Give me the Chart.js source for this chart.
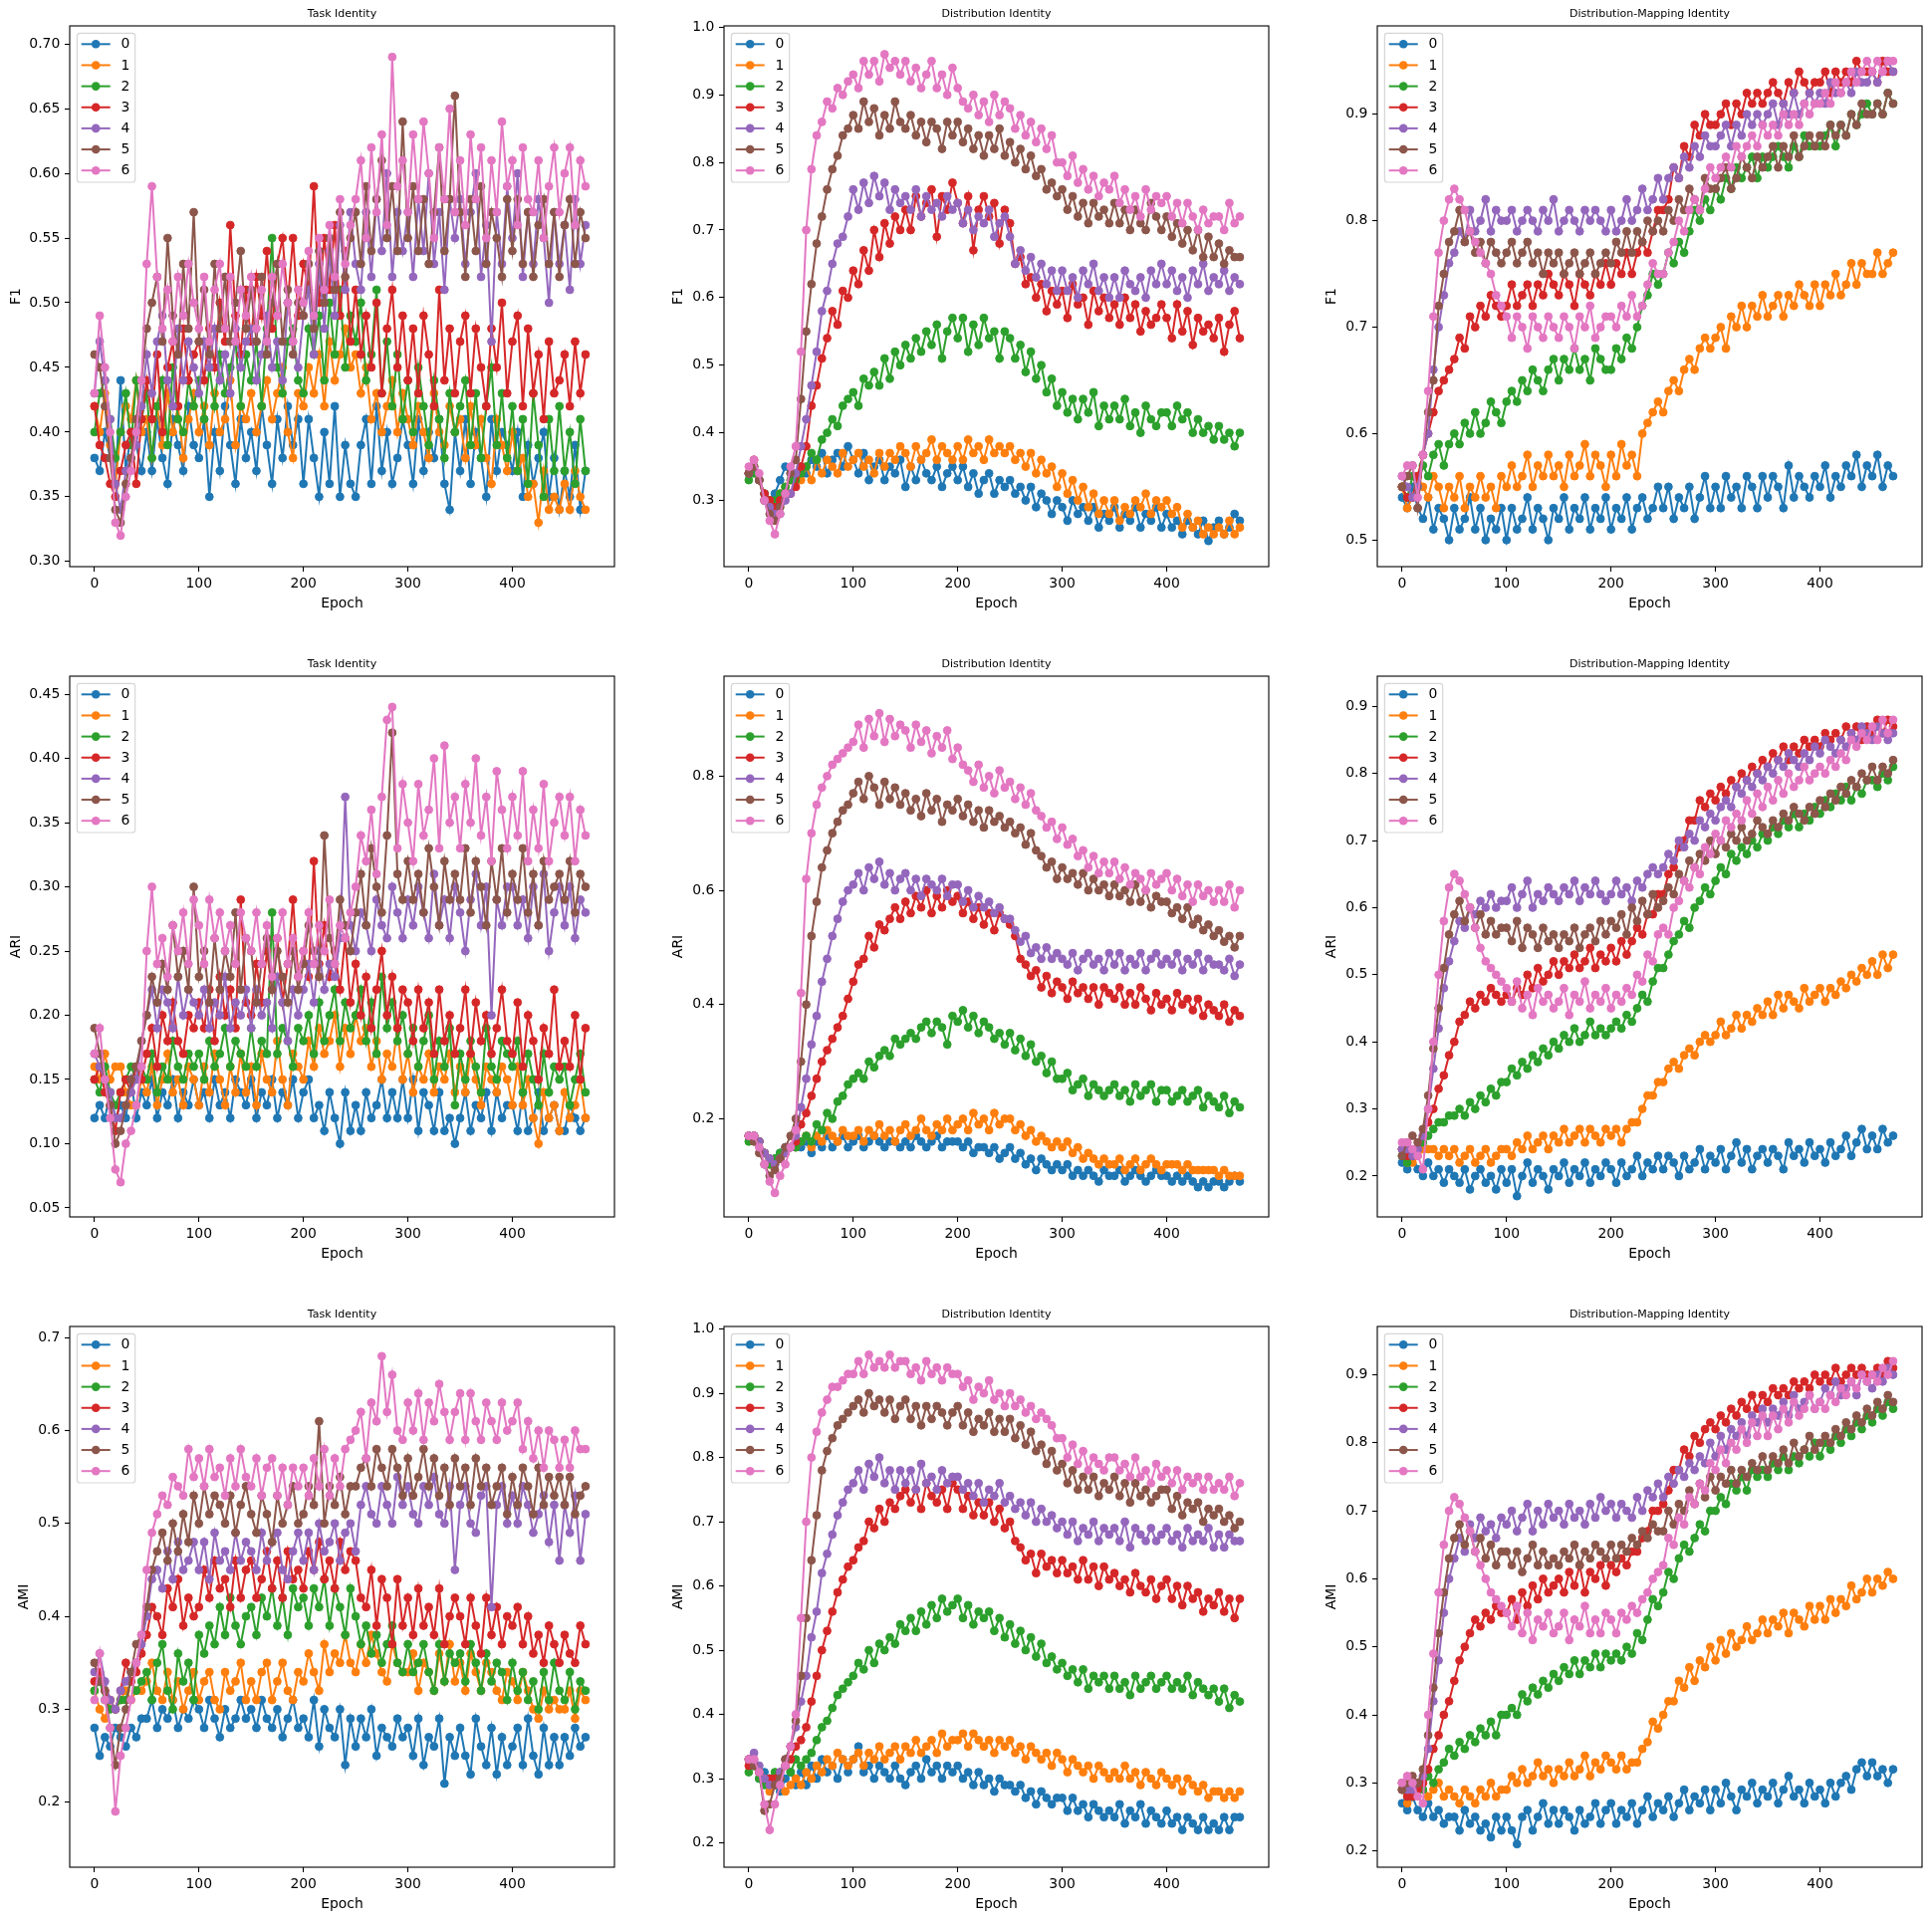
<!DOCTYPE html>
<html>
<head>
<meta charset="utf-8">
<title>Identity scores per epoch</title>
<script src="https://cdn.jsdelivr.net/npm/chart.js@4.4.1/dist/chart.umd.min.js"></script>
<style>
    body { margin: 0; background: #fff; width: 1940px; height: 1927px; position: relative; overflow: hidden; }
    canvas { position: absolute; }
</style>
</head>
<body>
<script>
'use strict';

// epochs that were sampled from the run logs
let epochs = [0,5,10,15,20,25,30,35,40,45,50,55,60,65,70,75,80,85,90,95,100,105,110,115,120,125,130,135,140,145,150,155,160,165,170,175,180,185,190,195,200,205,210,215,220,225,230,235,240,245,250,255,260,265,270,275,280,285,290,295,300,305,310,315,320,325,330,335,340,345,350,355,360,365,370,375,380,385,390,395,400,405,410,415,420,425,430,435,440,445,450,455,460,465,470];
let runNames = ['0', '1', '2', '3', '4', '5', '6'];
let xTicks = [0, 100, 200, 300, 400];

// scores are kept in hundredths (38 means 0.38), one row per run 0..6
let f1Task = [
    [38,37,40,38,36,44,37,40,39,37, 40,37,41,38,36,41,39,37,42,39, 38,41,35,40,37,42,39,36,41,38, 40,37,42,39,36,41,38,42,39,41, 36,41,38,35,40,36,42,35,39,36, 35,39,41,36,42,37,40,36,38,41, 39,36,41,37,40,38,41,36,34,40, 37,41,36,40,38,35,41,37,40,39, 37,40,35,39,36,38,40,35,38,34, 37,35,39,34,37],
    [42,40,43,39,36,40,42,41,44,40, 41,38,42,39,43,40,42,38,41,43, 40,42,39,43,40,41,44,39,42,41, 43,40,42,44,41,43,45,40,38,43, 42,45,43,46,42,47,44,46,48,45, 46,43,45,41,43,40,42,44,40,43, 41,39,42,40,38,43,40,39,42,40, 41,38,42,39,41,38,36,41,39,37, 40,37,38,35,36,33,37,34,35,34, 36,34,37,35,34],
    [40,43,44,41,38,40,43,39,44,41, 43,38,42,44,39,45,41,40,44,42, 44,41,45,42,46,43,45,47,42,46, 44,47,42,48,55,45,43,47,48,44, 43,48,46,49,44,50,46,51,45,49, 47,50,44,46,51,43,47,42,46,41, 44,40,45,42,39,44,41,38,43,40, 42,44,39,43,38,42,45,39,43,38, 42,37,41,36,43,39,35,41,37,42, 37,40,36,41,37],
    [42,39,38,36,35,37,39,40,36,41, 44,41,46,40,45,47,42,48,44,46, 47,44,48,45,50,47,56,49,46,51, 47,52,49,54,48,53,55,50,55,49, 53,51,59,50,55,51,56,49,54,47, 51,46,49,45,50,43,48,51,45,49, 44,48,43,49,46,42,51,44,48,43, 47,49,43,48,45,42,48,45,50,43, 47,49,42,48,43,46,41,47,43,44, 46,42,47,43,46],
    [43,47,44,41,36,34,37,38,39,42, 46,43,47,49,44,42,48,44,47,45, 43,47,45,48,44,46,43,48,45,47, 48,44,46,49,45,47,44,50,47,45, 49,51,46,53,48,54,49,56,51,57, 53,51,57,52,58,54,60,52,57,54, 57,52,58,54,60,53,57,51,58,55, 58,53,57,60,52,56,47,57,53,59, 55,60,52,57,53,58,55,50,57,53, 56,51,58,53,56],
    [46,45,42,38,34,33,36,38,41,44, 48,50,52,47,55,49,46,53,48,57, 47,51,46,53,48,52,47,50,54,48, 51,47,52,46,50,53,47,51,46,50, 49,53,48,54,50,55,51,57,52,55, 57,53,59,54,58,61,55,59,54,64, 55,59,54,58,53,57,62,54,58,66, 57,52,58,54,59,53,57,55,52,58, 54,58,53,57,52,56,58,53,57,52, 56,58,53,57,55],
    [43,49,45,40,33,32,35,37,40,44, 53,59,52,48,51,47,52,49,53,50, 48,52,47,51,53,48,52,47,51,49, 52,48,51,47,52,49,53,50,47,51, 50,54,49,55,51,56,52,58,53,56, 58,61,55,62,57,63,56,69,59,61, 57,63,58,64,60,55,62,58,65,57, 61,56,63,58,62,55,61,57,64,59, 61,56,62,58,57,61,55,59,62,57, 60,62,56,61,59]
];

let f1Dist = [
    [34,35,33,31,30,31,33,35,34,34, 35,34,36,35,37,34,36,37,35,38, 36,34,37,33,35,36,33,35,34,36, 32,35,33,36,34,33,35,32,34,35, 33,35,32,34,31,33,34,31,33,32, 33,31,32,30,32,29,31,30,28,30, 29,27,30,28,29,27,29,26,28,27, 29,26,28,27,29,26,28,27,29,26, 28,26,27,25,27,26,25,27,24,26, 27,25,26,28,27],
    [34,35,33,30,30,29,31,32,33,34, 33,35,33,36,34,36,35,34,37,35, 36,37,35,36,34,37,35,37,36,38, 37,35,38,36,37,39,36,38,37,36, 38,36,39,37,38,36,39,37,38,37, 38,36,37,35,37,34,36,34,35,32, 34,31,33,30,32,29,31,28,30,28, 30,27,29,28,30,29,31,28,30,29, 30,28,29,26,28,26,27,25,26,25, 26,25,27,25,26],
    [33,34,33,31,30,30,31,32,33,33, 34,35,37,36,39,40,42,41,44,45, 46,44,48,47,49,47,51,48,52,50, 53,51,54,52,55,53,56,51,55,57, 54,57,52,56,53,57,54,55,51,55, 54,51,53,49,52,48,50,46,48,44, 46,43,45,42,45,43,46,41,44,42, 44,42,45,41,43,40,44,42,41,43, 43,41,44,42,43,40,42,40,41,39, 41,39,40,38,40],
    [34,36,33,31,30,29,30,31,31,32, 35,38,44,47,51,54,58,56,61,60, 64,62,67,64,70,66,71,68,72,70, 73,70,75,72,74,76,69,75,73,77, 74,71,75,67,73,75,72,74,68,73, 71,65,66,62,63,60,62,58,61,59, 61,57,62,59,60,56,61,58,60,57, 59,56,60,57,59,55,58,56,57,59, 57,54,59,55,58,53,57,55,56,54, 57,52,56,58,54],
    [34,35,33,30,29,28,28,30,31,34, 38,42,47,52,58,61,65,68,69,72, 76,73,77,74,78,75,77,73,76,74, 75,73,76,72,75,73,74,72,75,73, 74,71,73,70,72,71,73,69,71,72, 69,65,67,64,66,63,65,62,64,61, 64,61,63,60,64,62,65,61,63,60, 63,60,64,62,61,63,60,64,62,65, 62,64,61,63,60,64,62,65,61,63, 62,64,61,63,62],
    [34,35,33,30,28,27,29,31,34,36, 45,55,62,68,72,76,79,81,84,85, 87,85,89,86,88,84,87,85,89,86, 85,87,84,86,83,86,85,82,86,84, 86,83,85,82,84,81,84,82,85,81, 83,80,82,79,81,78,79,76,77,75, 76,73,75,72,74,71,74,72,73,71, 74,71,73,70,73,71,70,74,72,70, 72,69,71,68,70,67,70,66,69,66, 68,65,67,66,66],
    [35,36,34,30,27,25,28,31,35,38, 52,70,79,84,86,89,88,91,90,92, 93,91,95,93,95,92,96,94,95,93, 95,92,94,91,93,95,91,93,90,94, 91,89,88,90,87,89,86,90,87,89, 88,85,87,84,86,83,85,82,84,80, 80,78,81,77,79,76,78,75,77,76, 78,74,76,73,75,72,76,73,75,74, 75,72,74,71,74,72,70,73,71,72, 72,70,74,71,72]
];

let f1Map = [
    [54,53,55,53,52,54,51,53,52,50, 53,51,52,54,51,53,50,52,51,53, 50,53,51,52,54,51,53,52,50,53, 52,54,51,53,52,54,51,53,52,54, 51,53,52,54,51,53,54,52,53,55, 53,55,52,54,53,55,52,54,56,53, 55,53,56,54,55,53,56,55,53,56, 54,56,55,53,57,54,56,55,54,56, 55,57,54,56,55,57,56,58,55,57, 56,58,55,57,56],
    [55,53,54,56,55,54,56,55,53,55, 54,56,53,55,54,56,54,55,53,56, 55,57,55,56,58,55,57,56,58,56, 57,55,58,56,57,59,56,58,57,55, 58,56,59,57,58,56,60,61,62,63, 62,64,65,64,66,67,66,68,69,68, 69,70,68,71,70,72,70,72,71,73, 71,72,73,71,73,72,74,73,72,74, 72,74,73,75,73,74,76,74,76,75, 75,77,75,76,77],
    [55,54,56,55,57,56,58,59,57,59, 60,59,61,60,62,60,61,63,62,61, 63,64,63,65,64,66,65,64,66,67, 65,67,66,68,66,67,65,68,67,66, 66,68,67,69,68,70,72,73,75,74, 75,77,76,78,77,79,81,80,82,81, 83,82,84,83,85,84,85,86,84,86, 85,86,87,86,85,87,86,88,87,87, 87,88,89,87,89,88,90,89,90,91, 90,91,90,92,91],
    [55,54,54,56,58,60,62,64,65,66, 67,69,68,71,70,72,71,73,72,71, 72,74,72,73,74,72,74,73,75,74, 73,75,74,72,75,74,73,75,74,76, 74,76,75,77,75,77,78,77,79,81, 81,82,85,84,87,86,89,88,90,89, 89,90,91,89,91,90,92,91,92,91, 92,93,92,91,93,92,94,93,92,93, 93,94,92,94,93,94,93,95,94,94, 94,93,95,94,94],
    [56,55,54,55,58,60,66,70,73,76, 77,79,78,81,79,80,82,79,81,80, 80,81,79,80,81,80,79,81,80,82, 79,80,81,80,79,81,80,81,80,79, 81,79,80,82,80,81,83,81,82,84, 82,84,85,84,86,85,87,86,88,87, 87,88,89,87,89,88,90,89,90,89, 90,91,89,91,90,92,90,91,92,91, 92,91,93,92,92,93,92,94,93,93, 94,93,94,95,94],
    [55,56,57,53,58,62,65,72,75,78, 79,81,78,79,77,78,76,78,77,76, 77,78,76,77,78,76,77,75,77,76, 77,75,76,77,75,76,77,75,76,77, 76,78,77,79,77,79,78,80,79,80, 79,81,80,82,81,83,82,81,84,83, 83,84,85,83,84,86,85,84,86,85, 86,87,85,87,86,88,86,87,88,87, 88,87,89,88,89,88,90,89,91,90, 90,91,90,92,91],
    [56,57,57,54,58,64,71,77,80,82, 83,82,81,79,78,77,76,75,73,72, 71,69,71,70,68,71,70,69,71,70, 69,71,70,68,71,70,72,69,70,71, 71,70,72,71,73,71,72,74,76,75, 75,77,78,80,79,81,82,81,83,85, 84,85,86,85,87,86,87,88,87,89, 88,89,88,90,89,90,89,91,90,91, 91,92,91,93,92,93,94,93,94,95, 94,95,94,95,95]
];

let ariTask = [
    [12,13,12,14,12,13,12,15,12,14, 13,15,12,14,13,15,12,14,13,15, 13,14,12,15,13,14,12,15,14,13, 15,12,14,13,15,12,14,13,15,12, 14,15,12,13,11,14,12,10,14,11, 13,11,14,12,13,15,12,14,12,15, 12,15,11,14,13,11,14,11,12,10, 12,14,11,13,12,14,11,14,12,13, 13,11,14,11,12,14,11,12,13,11, 11,13,12,11,12],
    [16,15,17,15,16,16,14,13,13,15, 14,16,13,15,17,14,15,13,16,15, 13,16,14,17,15,13,16,14,17,14, 16,13,17,15,14,18,15,13,17,16, 15,18,16,19,17,18,20,16,19,17, 20,18,19,16,18,15,17,16,19,15, 17,14,16,15,17,14,16,15,17,14, 16,14,17,15,13,16,15,14,16,15, 13,16,13,15,12,10,14,12,13,11, 14,12,13,15,12],
    [15,14,16,14,13,14,15,16,15,16, 15,17,14,16,15,18,16,15,17,16, 17,15,18,16,17,19,16,18,17,16, 19,16,18,17,28,17,19,18,16,19, 18,20,17,21,18,20,22,18,21,19, 20,22,18,21,17,23,19,21,18,20, 17,19,16,18,20,15,18,16,19,13, 17,15,18,16,14,19,16,15,18,17, 16,18,14,17,15,13,17,14,16,15, 16,13,15,17,14],
    [15,16,14,13,11,14,15,14,16,15, 17,19,16,20,18,21,18,17,20,19, 21,19,22,18,23,20,22,19,29,21, 20,24,21,25,22,26,21,24,29,23, 25,23,32,24,27,23,25,22,26,21, 24,20,23,19,22,25,20,23,19,22, 21,18,22,19,21,17,22,18,20,17, 19,22,17,21,18,20,17,19,22,18, 17,21,16,20,18,15,19,17,22,16, 18,16,20,15,19],
    [17,16,15,14,12,12,13,14,15,18, 20,22,19,22,21,19,23,20,22,21, 20,22,19,21,20,23,19,21,20,22, 19,22,20,21,19,23,21,18,22,20, 22,24,21,25,22,24,23,26,37,27, 25,28,27,25,29,27,26,30,28,26, 29,27,30,28,26,31,27,29,26,30, 28,25,29,31,27,30,20,29,27,30, 30,27,29,26,30,27,31,25,28,30, 27,30,26,29,28],
    [19,17,15,13,10,11,13,15,16,18, 20,23,21,24,22,27,23,25,22,30, 23,25,21,26,22,25,23,28,22,26, 25,21,24,26,22,25,23,21,25,22, 24,27,25,23,34,26,24,29,27,25, 28,31,27,33,30,28,34,42,31,29, 32,29,31,28,33,30,27,32,29,31, 29,33,28,32,30,27,32,29,33,28, 31,29,33,28,31,27,32,29,30,31, 29,32,28,31,30],
    [17,19,15,12,8,7,10,11,13,16, 25,30,24,26,23,27,25,28,24,29, 27,24,29,26,28,25,27,24,28,26, 25,28,24,27,23,26,28,24,26,23, 25,28,24,27,25,29,24,27,26,28, 30,34,32,36,31,37,43,44,33,38, 35,32,38,34,36,40,33,41,35,37, 33,38,35,40,34,37,32,39,36,33, 37,34,39,32,36,33,38,32,35,37, 34,37,32,36,34]
];

let ariDist = [
    [17,17,16,14,13,13,14,15,15,15, 15,16,14,16,15,17,15,16,17,15, 16,17,15,16,17,16,15,16,16,15, 16,15,17,16,15,16,17,15,16,16, 16,15,16,14,15,15,14,15,13,14, 15,13,14,12,13,11,13,12,11,12, 11,12,10,11,10,11,10,9,11,10, 10,11,9,10,11,10,9,10,11,10, 10,9,10,9,10,9,8,9,8,9, 9,8,9,10,9],
    [17,17,16,14,12,12,13,14,15,15, 16,17,15,17,16,18,17,16,18,17, 17,18,16,18,17,19,17,18,16,18, 19,17,18,20,18,17,19,18,20,18, 19,20,18,21,19,20,18,21,19,20, 20,18,19,17,18,16,17,16,15,16, 15,16,14,15,13,14,13,12,13,12, 12,13,11,12,13,11,12,13,12,11, 12,12,12,11,12,11,11,11,11,11, 10,11,10,10,10],
    [16,17,16,14,12,13,14,14,15,15, 16,17,16,19,18,21,20,23,24,26, 27,28,27,30,29,31,32,31,34,33, 34,35,34,36,37,35,37,36,33,38, 37,39,36,38,35,37,36,34,35,33, 35,32,34,31,33,30,31,28,30,27, 27,28,25,26,27,24,26,25,24,25, 26,24,25,23,26,24,25,26,23,25, 25,23,24,25,23,24,25,22,24,23, 22,24,21,23,22],
    [17,17,16,14,13,12,13,14,15,16, 19,21,24,27,30,32,34,36,38,41, 44,47,48,52,50,54,53,55,57,55, 58,56,59,57,60,56,59,57,60,58, 59,56,58,55,57,54,56,53,56,55, 54,52,48,47,45,46,43,45,42,44, 43,41,44,42,43,41,43,40,43,42, 41,43,40,42,40,43,41,39,42,40, 41,39,42,40,41,39,41,38,40,39, 38,40,37,39,38],
    [17,17,16,14,13,12,13,14,15,17, 22,27,33,38,44,48,52,55,58,60, 61,63,60,64,62,65,61,63,60,62, 63,60,62,59,62,61,60,62,59,61, 61,58,60,57,59,57,58,56,57,55, 55,53,51,52,49,50,48,50,48,49, 48,47,49,46,48,49,47,48,46,49, 47,49,46,48,47,49,46,48,49,47, 48,47,49,46,48,47,49,46,48,47, 47,46,48,45,47],
    [17,16,14,12,10,11,13,15,17,20, 30,40,52,58,64,67,70,72,74,75, 77,79,76,80,78,75,79,76,78,75, 77,74,76,73,77,74,76,72,75,74, 76,73,75,72,74,71,74,72,73,71, 72,70,71,68,70,67,66,64,65,62, 64,62,63,61,63,60,62,60,61,59, 61,59,60,58,61,58,60,57,59,58, 58,56,57,55,57,54,55,53,54,52, 53,51,52,50,52],
    [17,17,15,12,9,7,10,12,15,18, 42,62,70,75,78,80,82,83,84,85, 86,89,85,90,87,91,86,90,87,89, 88,85,89,86,88,84,87,85,88,83, 85,82,81,79,82,78,80,77,81,78, 79,76,78,75,77,74,73,71,72,69, 71,68,69,66,67,64,66,63,65,63, 65,62,64,61,63,62,60,63,61,62, 63,60,62,59,61,58,61,59,60,58, 60,58,61,57,60]
];

let ariMap = [
    [22,21,23,21,20,22,20,21,19,21, 20,19,21,18,20,21,19,20,18,21, 19,21,17,20,22,19,21,20,18,21, 20,22,19,21,20,22,19,21,20,22, 21,19,22,20,21,23,20,22,21,23, 21,23,22,20,23,21,22,24,21,23, 22,24,21,23,25,22,24,21,23,24, 22,24,23,21,25,23,24,22,25,23, 24,22,25,23,24,26,23,25,27,24, 26,24,27,25,26],
    [24,22,22,23,24,24,24,23,24,23, 24,22,23,24,22,23,24,22,23,24, 24,23,25,24,26,24,25,26,24,26, 25,27,25,26,27,25,27,26,25,27, 26,27,25,27,28,28,30,32,32,34, 34,36,37,36,38,39,38,40,41,40, 41,43,41,42,44,42,44,43,45,44, 46,44,47,45,47,46,45,48,46,47, 48,46,48,47,49,48,50,49,51,50, 52,50,53,51,53],
    [23,22,23,24,25,26,27,28,28,29, 29,30,29,31,30,32,31,33,32,34, 34,36,35,37,36,38,37,39,38,40, 39,41,40,42,40,41,43,41,42,41, 42,43,42,44,43,45,47,46,49,51, 51,53,55,56,58,57,60,61,63,62, 64,66,65,68,67,69,68,70,69,71, 70,72,71,73,72,74,72,74,73,75, 74,76,75,77,76,78,76,78,77,79, 79,78,80,79,81],
    [24,23,23,24,26,28,30,33,35,38, 40,43,44,46,45,47,46,48,47,46, 47,46,48,47,50,48,51,49,50,52, 50,52,51,53,51,52,54,51,53,52, 54,52,55,53,55,57,56,59,59,62, 62,65,66,69,70,73,73,76,75,77, 76,78,77,79,78,80,79,81,80,82, 81,83,82,84,82,84,83,85,84,85, 84,86,85,86,85,87,86,87,85,87, 86,88,86,88,87],
    [24,24,23,24,26,30,36,42,48,52, 55,58,57,60,59,61,60,62,60,61, 61,63,60,62,64,60,62,61,63,62, 61,63,62,64,61,63,62,64,62,61, 62,64,62,63,61,64,63,65,66,65, 66,68,67,70,69,71,70,73,72,74, 73,75,76,75,78,77,79,78,80,79, 81,80,82,81,83,82,81,83,82,84, 83,85,84,83,85,84,86,85,87,86, 85,87,86,85,86],
    [23,25,26,25,27,32,39,45,51,56, 59,61,58,60,57,59,56,58,56,57, 57,55,58,54,57,56,54,57,55,56, 54,56,55,57,54,56,57,55,58,56, 58,57,59,56,60,58,61,59,62,60, 61,63,62,65,64,67,66,68,67,70, 68,70,69,71,70,72,70,71,73,72, 71,73,72,74,73,75,74,73,75,74, 76,75,77,76,78,77,79,78,80,79, 81,79,81,80,82],
    [25,25,24,23,21,30,40,50,58,63, 65,64,62,60,57,54,52,51,50,49, 48,46,49,45,47,44,48,46,47,45, 46,48,44,47,46,49,45,47,46,48, 45,47,46,48,47,50,49,53,52,56, 57,56,60,61,64,63,66,65,69,68, 71,70,73,72,74,73,76,74,77,75, 78,76,79,77,80,78,79,81,79,80, 81,80,82,81,83,82,85,84,86,85, 87,85,88,86,88]
];

let amiTask = [
    [28,25,27,26,28,27,26,28,27,29, 29,31,28,30,29,31,28,30,29,31, 30,28,31,29,27,30,28,29,31,29, 30,28,31,29,28,30,27,29,31,28, 29,27,31,26,30,28,27,30,24,29, 26,29,27,30,25,28,27,26,29,27, 28,25,29,24,27,26,29,22,27,25, 28,25,23,29,26,24,28,23,27,24, 26,28,24,29,25,23,28,24,27,24, 27,25,28,26,27],
    [32,30,29,31,30,31,32,31,32,32, 33,35,32,31,34,31,33,30,32,34, 31,33,34,31,30,34,32,33,35,31, 33,31,34,35,31,33,35,32,31,34, 33,36,34,32,37,34,36,35,38,35, 34,37,35,38,36,34,33,37,35,34, 34,36,32,35,34,32,36,33,37,33, 35,32,36,34,32,35,34,32,31,34, 33,31,34,32,30,29,32,30,31,30, 30,32,29,32,31],
    [32,33,31,30,30,31,31,33,32,33, 34,31,35,37,32,30,36,33,35,31, 38,36,39,37,41,38,42,39,37,40, 41,38,42,40,43,39,42,38,43,41, 42,39,43,41,44,39,43,41,38,43, 40,37,39,36,38,35,37,39,35,34, 37,34,35,37,34,32,37,33,36,35, 36,33,37,35,32,36,33,35,34,31, 35,32,34,31,33,30,34,31,35,32, 31,34,30,33,32],
    [33,34,32,31,30,32,35,33,34,36, 38,41,40,38,43,41,44,39,42,40, 41,45,42,46,43,44,41,46,42,45, 46,42,44,47,43,46,42,47,44,45, 43,47,45,48,44,46,43,48,45,47, 46,42,41,45,39,44,42,37,44,39, 42,38,43,39,41,38,43,37,40,42, 40,37,42,39,36,42,38,41,37,40, 39,41,37,40,36,38,35,39,37,35, 38,36,35,39,37],
    [34,36,33,31,30,32,33,34,35,37, 40,44,45,43,47,44,48,45,46,48, 45,48,44,49,46,47,45,49,46,48, 47,45,49,46,48,49,45,44,47,49, 46,49,45,50,47,48,50,46,49,50, 47,52,54,51,50,54,52,50,55,52, 54,51,50,54,52,55,51,50,54,45, 52,54,50,49,53,54,41,52,54,50, 53,50,54,52,49,51,53,48,52,46, 52,49,53,46,51],
    [35,33,32,28,24,28,30,34,37,38, 41,45,47,49,46,50,47,51,48,53, 50,54,51,53,52,50,53,49,52,54, 51,49,53,51,48,53,50,52,54,50, 51,54,52,61,50,54,52,55,51,54, 54,56,57,54,58,56,54,58,56,53, 57,53,55,58,54,57,53,56,52,57, 54,56,52,57,54,56,52,54,56,51, 55,52,56,54,51,56,52,55,53,55, 52,55,51,53,54],
    [31,36,31,28,19,25,28,31,35,38, 45,49,51,53,52,55,54,53,58,55, 57,54,58,55,56,53,57,54,58,55, 54,57,53,56,57,53,56,52,56,54, 56,53,57,54,58,53,57,54,58,59, 60,62,57,63,61,68,62,66,60,59, 63,60,64,59,63,61,65,62,59,62, 64,59,64,61,59,63,61,59,63,60, 61,63,58,61,57,60,56,60,59,56, 59,56,60,58,58]
];

let amiDist = [
    [33,32,30,31,29,30,28,30,31,29, 31,29,32,30,33,31,32,30,33,31, 33,35,31,32,30,32,31,30,32,30, 29,31,32,30,33,31,32,30,32,31, 32,30,31,29,31,29,30,28,30,29, 29,28,29,27,28,26,28,27,26,27, 27,25,27,25,26,24,26,25,24,25, 24,26,23,25,24,26,23,25,24,23, 25,23,24,22,24,23,22,24,22,23, 22,24,22,24,24],
    [33,32,31,30,28,29,30,28,29,30, 29,31,30,32,31,33,32,34,33,32, 33,34,32,34,33,35,33,34,35,33, 35,34,36,34,35,36,34,37,35,36, 36,37,35,37,36,35,36,34,36,35, 36,34,35,33,35,34,33,34,32,34, 33,31,33,32,31,32,30,32,31,30, 31,30,32,30,31,29,31,30,29,31, 30,29,30,28,30,29,28,29,27,28, 28,27,28,27,28],
    [31,32,30,29,30,31,30,32,31,33, 32,33,34,36,38,39,41,43,44,45, 46,48,47,50,48,51,50,52,51,54, 53,55,53,56,54,57,55,58,56,57, 58,55,57,54,56,55,56,53,55,52, 54,51,53,50,52,49,51,48,49,47, 48,46,47,45,47,44,46,45,46,44, 46,44,45,43,46,44,45,46,44,45, 46,44,45,44,46,43,45,44,43,44, 42,44,41,43,42],
    [32,33,31,30,30,30,31,32,33,35, 36,38,42,46,50,53,56,59,61,63, 64,66,67,70,69,72,70,73,72,74, 75,73,75,72,76,74,73,75,72,76, 75,72,74,71,73,71,73,70,72,69, 70,67,66,64,65,62,65,63,64,62, 64,62,63,61,64,61,63,60,63,61, 62,60,61,59,62,60,59,61,58,60, 61,58,60,57,60,58,59,56,58,57, 59,56,58,55,58],
    [33,34,32,30,29,29,31,33,35,38, 42,46,52,56,62,65,68,71,73,75, 76,78,75,79,77,80,76,78,75,78, 76,78,75,79,76,77,75,78,76,77, 77,75,76,74,76,73,75,74,76,73, 74,72,73,71,73,70,72,70,71,69, 70,68,70,67,69,68,70,67,69,68, 69,67,70,66,69,68,67,69,67,68, 69,67,68,66,69,67,68,67,69,66, 68,66,68,67,67],
    [33,32,31,25,26,29,30,33,35,39, 46,55,64,71,78,81,83,85,86,87, 88,89,87,90,88,89,87,89,86,88, 89,86,88,85,88,86,88,87,85,87, 88,85,87,84,86,85,87,84,86,84, 86,83,85,82,84,81,82,79,81,78, 79,76,78,75,77,75,77,74,76,75, 77,74,76,73,76,74,75,73,74,75, 75,72,74,71,73,72,73,70,72,71, 72,70,71,69,70],
    [33,33,31,26,22,26,29,32,35,40, 55,70,80,84,87,89,91,91,92,93, 93,95,93,96,94,95,94,96,94,95, 95,93,94,92,95,93,94,92,94,93, 93,91,92,89,91,90,92,89,90,88, 90,88,89,87,88,86,87,86,85,83, 83,80,82,79,81,78,80,79,78,80, 80,78,79,77,80,77,78,76,79,77, 78,76,78,75,77,76,77,75,77,75, 76,75,77,74,76]
];

let amiMap = [
    [27,26,28,26,25,27,25,26,24,25, 25,23,26,24,25,23,24,22,25,23, 25,23,21,25,26,23,25,27,24,26, 24,26,25,23,26,24,25,27,24,26, 27,24,26,25,27,24,26,28,25,27, 26,28,25,27,29,26,28,27,29,26, 29,27,30,28,26,29,28,30,27,29, 28,30,27,29,31,28,29,27,30,28, 29,27,30,28,30,31,29,32,33,31, 33,31,32,30,32],
    [30,27,28,29,30,28,29,30,28,29, 28,27,29,28,27,29,28,30,28,29, 29,31,30,32,30,31,33,31,32,30, 32,31,33,31,32,34,31,33,32,34, 33,32,34,32,33,33,35,36,39,38, 40,42,42,45,44,47,45,48,47,50, 48,51,49,52,50,51,53,51,52,54, 52,54,53,55,52,55,54,53,56,54, 56,54,57,55,57,56,59,57,58,60, 58,60,59,61,60],
    [29,28,28,30,29,31,30,32,33,35, 34,36,35,37,36,38,37,39,37,40, 40,41,40,43,42,44,43,45,44,46, 45,47,46,48,46,48,47,49,47,49, 48,49,48,50,49,52,51,54,57,56, 58,61,60,63,65,64,66,68,67,70, 70,72,71,74,73,75,73,76,75,76, 75,77,76,78,76,78,77,79,78,80, 78,80,79,81,80,82,81,83,82,84, 83,85,84,86,85],
    [29,28,28,29,30,32,35,37,40,42, 45,48,50,52,54,53,55,54,56,55, 55,57,54,58,56,59,57,60,58,59, 60,58,61,59,62,58,61,60,62,59, 62,61,63,62,64,64,66,67,70,70, 71,73,76,76,79,78,81,80,82,83, 82,84,83,85,84,86,85,87,85,87, 86,88,87,88,87,89,88,89,88,90, 89,90,89,91,89,90,91,90,91,90, 90,91,90,92,91],
    [30,29,29,30,31,35,42,48,55,60, 63,66,64,68,66,69,67,68,66,69, 68,70,67,69,71,67,70,68,71,69, 70,68,71,69,70,68,71,69,72,70, 71,69,71,70,69,72,70,73,72,74, 72,75,74,76,75,77,76,78,77,80, 78,81,79,82,81,83,81,84,83,85, 83,85,84,86,84,87,85,86,87,85, 86,88,87,89,87,88,89,87,90,89, 88,90,89,91,90],
    [29,30,31,30,32,37,44,52,58,63, 66,68,65,67,64,66,63,65,62,64, 64,62,64,61,63,65,62,64,62,63, 62,64,63,65,62,64,63,65,64,63, 65,63,65,64,66,65,67,66,68,67, 67,70,68,71,70,73,71,74,72,75, 73,75,74,76,74,76,75,77,76,78, 76,78,77,79,77,80,78,79,81,79, 80,81,80,82,81,83,82,84,83,85, 84,86,85,87,86],
    [30,31,30,28,27,40,49,58,65,70, 72,71,69,67,64,62,60,58,57,56, 55,53,56,52,55,51,54,53,55,52, 53,55,51,54,53,56,52,54,52,55, 54,52,55,54,56,55,57,58,60,61, 62,66,65,69,68,72,71,74,73,77, 76,79,77,80,79,82,80,83,81,84, 81,84,82,85,83,86,84,85,87,85, 86,85,87,86,88,87,89,88,90,89, 90,89,91,90,92]
];

let colors = ['#1f77b4', '#ff7f0e', '#2ca02c', '#d62728', '#9467bd', '#8c564b', '#e377c2'];

let panels = [
    {scores: f1Task, title: 'Task Identity', metric: 'F1', col: 0, row: 0, yMin: 0.296, yMax: 0.714, decimals: 2, yTicks: [0.30, 0.35, 0.40, 0.45, 0.50, 0.55, 0.60, 0.65, 0.70]},
    {scores: f1Dist, title: 'Distribution Identity', metric: 'F1', col: 1, row: 0, yMin: 0.202, yMax: 1.002, decimals: 1, yTicks: [0.3, 0.4, 0.5, 0.6, 0.7, 0.8, 0.9, 1.0]},
    {scores: f1Map, title: 'Distribution-Mapping Identity', metric: 'F1', col: 2, row: 0, yMin: 0.475, yMax: 0.983, decimals: 1, yTicks: [0.5, 0.6, 0.7, 0.8, 0.9]},
    {scores: ariTask, title: 'Task Identity', metric: 'ARI', col: 0, row: 1, yMin: 0.043, yMax: 0.464, decimals: 2, yTicks: [0.05, 0.10, 0.15, 0.20, 0.25, 0.30, 0.35, 0.40, 0.45]},
    {scores: ariDist, title: 'Distribution Identity', metric: 'ARI', col: 1, row: 1, yMin: 0.028, yMax: 0.975, decimals: 1, yTicks: [0.2, 0.4, 0.6, 0.8]},
    {scores: ariMap, title: 'Distribution-Mapping Identity', metric: 'ARI', col: 2, row: 1, yMin: 0.139, yMax: 0.945, decimals: 1, yTicks: [0.2, 0.3, 0.4, 0.5, 0.6, 0.7, 0.8, 0.9]},
    {scores: amiTask, title: 'Task Identity', metric: 'AMI', col: 0, row: 2, yMin: 0.130, yMax: 0.712, decimals: 1, yTicks: [0.2, 0.3, 0.4, 0.5, 0.6, 0.7]},
    {scores: amiDist, title: 'Distribution Identity', metric: 'AMI', col: 1, row: 2, yMin: 0.162, yMax: 1.004, decimals: 1, yTicks: [0.2, 0.3, 0.4, 0.5, 0.6, 0.7, 0.8, 0.9, 1.0]},
    {scores: amiMap, title: 'Distribution-Mapping Identity', metric: 'AMI', col: 2, row: 2, yMin: 0.176, yMax: 0.971, decimals: 1, yTicks: [0.2, 0.3, 0.4, 0.5, 0.6, 0.7, 0.8, 0.9]}
];

// page geometry of the 3x3 grid
let axesLeft = [70, 727, 1383];
let axesTop = [26, 679, 1332];
let axesWidth = 547;
let axesHeight = 543;
let yAxisWidth = 70;
let titleHeight = 26;
let xAxisHeight = 50;
let rightPad = 12;

let tickFont = {family: 'DejaVu Sans', size: 13.9};

Chart.defaults.font.family = 'DejaVu Sans';
Chart.defaults.color = '#000';

// black box round the plot area, like the axes spines
let framePlugin = {
    id: 'frame',
    afterDatasetsDraw(chart) {
        let a = chart.chartArea;
        let ctx = chart.ctx;
        ctx.save();
        ctx.strokeStyle = '#000';
        ctx.lineWidth = 1.1;
        ctx.strokeRect(a.left, a.top, a.right - a.left, a.bottom - a.top);
        ctx.restore();
    }
};

// legend drawn inside the plot area, upper left
let innerLegend = {
    id: 'innerLegend',
    afterDatasetsDraw(chart) {
        let a = chart.chartArea;
        let ctx = chart.ctx;
        ctx.save();
        ctx.fillStyle = 'rgba(255,255,255,0.8)';
        ctx.strokeStyle = 'rgba(204,204,204,0.8)';
        ctx.lineWidth = 1.2;
        ctx.beginPath();
        ctx.roundRect(a.left + 7.4, a.top + 7.3, 58.3, 149.7, 2.8);
        ctx.fill();
        ctx.stroke();

        let sets = chart.data.datasets;
        for (let i = 0; i < sets.length; i++) {
            let cy = a.top + 18.3 + i * 21.15;
            ctx.strokeStyle = sets[i].borderColor;
            ctx.lineWidth = 2;
            ctx.beginPath();
            ctx.moveTo(a.left + 11.7, cy);
            ctx.lineTo(a.left + 40.7, cy);
            ctx.stroke();
            ctx.fillStyle = sets[i].borderColor;
            ctx.beginPath();
            ctx.arc(a.left + 26.2, cy, 4.3, 0, Math.PI * 2);
            ctx.fill();
            ctx.fillStyle = '#000';
            ctx.font = '13.9px "DejaVu Sans"';
            ctx.textAlign = 'left';
            ctx.textBaseline = 'middle';
            ctx.fillText(sets[i].label, a.left + 51.5, cy + 0.5);
        }
        ctx.restore();
    }
};

function buildDatasets(scores) {
    let sets = [];
    for (let i = 0; i < scores.length; i++) {
        let points = [];
        for (let j = 0; j < scores[i].length; j++) {
            points.push({x: epochs[j], y: scores[i][j] / 100});
        }
        sets.push({
            label: runNames[i],
            data: points,
            borderColor: colors[i],
            backgroundColor: colors[i],
            borderWidth: 2,
            pointRadius: 3.9,
            pointBorderWidth: 1,
            pointHoverRadius: 0,
            tension: 0,
            order: scores.length - i
        });
    }
    return sets;
}

function drawPanel(p) {
    let canvas = document.createElement('canvas');
    let w = yAxisWidth + axesWidth + rightPad;
    let h = titleHeight + axesHeight + xAxisHeight;
    canvas.width = w;
    canvas.height = h;
    canvas.style.left = (axesLeft[p.col] - yAxisWidth) + 'px';
    canvas.style.top = (axesTop[p.row] - titleHeight) + 'px';
    document.body.appendChild(canvas);

    new Chart(canvas, {
        type: 'line',
        data: {datasets: buildDatasets(p.scores)},
        options: {
            responsive: false,
            animation: false,
            devicePixelRatio: 1,
            events: [],
            layout: {padding: {left: 0, top: 0, right: rightPad, bottom: 0}},
            plugins: {
                legend: {display: false},
                tooltip: {enabled: false},
                title: {
                    display: true,
                    text: p.title,
                    fullSize: false,
                    color: '#000',
                    font: {family: 'DejaVu Sans', size: 11, weight: 'normal'},
                    padding: {top: 7.5, bottom: 5.3}
                }
            },
            scales: {
                x: {
                    type: 'linear',
                    min: -23.7,
                    max: 497.7,
                    afterBuildTicks: scale => { scale.ticks = xTicks.map(v => ({value: v})); },
                    afterFit: scale => { scale.height = xAxisHeight; },
                    grid: {drawOnChartArea: false, drawTicks: true, tickLength: 5, tickColor: '#000', tickWidth: 1.1},
                    border: {display: false},
                    ticks: {color: '#000', font: tickFont, padding: 4, autoSkip: false, maxRotation: 0, callback: v => String(v)},
                    title: {display: true, text: 'Epoch', color: '#000', font: tickFont, padding: {top: 0, bottom: 4.5}}
                },
                y: {
                    type: 'linear',
                    min: p.yMin,
                    max: p.yMax,
                    afterBuildTicks: scale => { scale.ticks = p.yTicks.map(v => ({value: v})); },
                    afterFit: scale => { scale.width = yAxisWidth; },
                    grid: {drawOnChartArea: false, drawTicks: true, tickLength: 5, tickColor: '#000', tickWidth: 1.1},
                    border: {display: false},
                    ticks: {color: '#000', font: tickFont, padding: 4.7, autoSkip: false, callback: v => v.toFixed(p.decimals)},
                    title: {display: true, text: p.metric, color: '#000', font: tickFont, padding: {top: p.decimals === 2 ? 8.2 : 16.2, bottom: 0}}
                }
            }
        },
        plugins: [framePlugin, innerLegend]
    });
}

for (let i = 0; i < panels.length; i++) {
    drawPanel(panels[i]);
}
</script>
</body>
</html>
